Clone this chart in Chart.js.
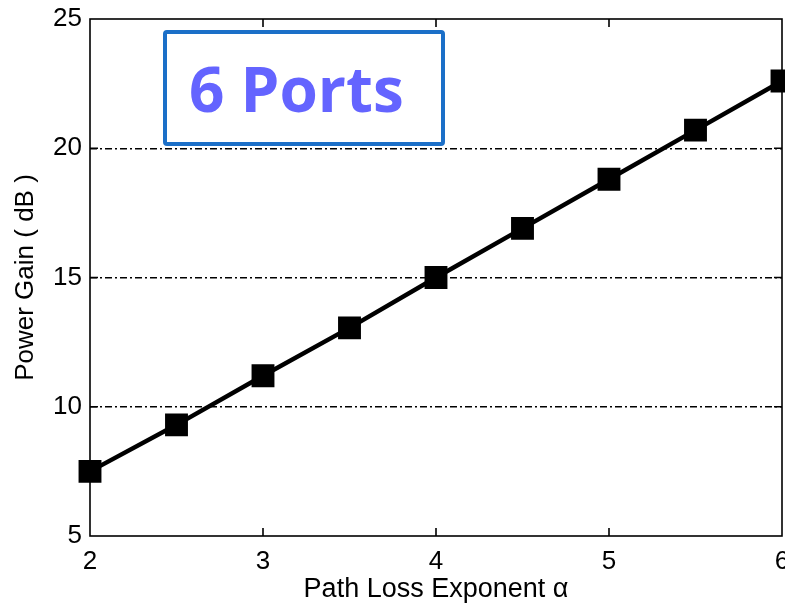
<!DOCTYPE html>
<html>
<head>
<meta charset="utf-8">
<title>Power Gain vs Path Loss Exponent</title>
<script src="https://cdn.jsdelivr.net/npm/chart.js@4.4.1/dist/chart.umd.min.js"></script>
<style>
  html, body { margin: 0; padding: 0; background: #fff; }
  #wrap { width: 785px; height: 603px; }
</style>
</head>
<body>
<div id="wrap"><canvas id="gainChart" width="785" height="603"></canvas></div>
<script>
// path loss exponent alpha and resulting power gain (dB)
const alphaValues = [2, 2.5, 3, 3.5, 4, 4.5, 5, 5.5, 6];
const powerGainDb = [7.5, 9.3, 11.2, 13.05, 15.0, 16.9, 18.8, 20.7, 22.6];
const xTicks = [2, 3, 4, 5, 6];
const yTicks = [5, 10, 15, 20, 25];
const gridLevels = [10, 15, 20];
const boxLabel = '6 Ports';

const axisFont = { family: "'Liberation Sans', Arial, sans-serif", size: 26 };

// box around the plot with short inward tick marks on all four sides
const framePlugin = {
  id: 'frame',
  beforeDatasetsDraw(chart) {
    const { ctx, chartArea: a, scales } = chart;
    const tick = 8;
    ctx.save();
    ctx.strokeStyle = '#000';
    ctx.lineWidth = 1.6;
    ctx.strokeRect(a.left, a.top, a.right - a.left, a.bottom - a.top);
    ctx.beginPath();
    xTicks.slice(1, -1).forEach(v => {
      const x = scales.x.getPixelForValue(v);
      ctx.moveTo(x, a.bottom); ctx.lineTo(x, a.bottom - tick);
      ctx.moveTo(x, a.top); ctx.lineTo(x, a.top + tick);
    });
    yTicks.slice(1, -1).forEach(v => {
      const y = scales.y.getPixelForValue(v);
      ctx.moveTo(a.left, y); ctx.lineTo(a.left + tick, y);
      ctx.moveTo(a.right, y); ctx.lineTo(a.right - tick, y);
    });
    ctx.stroke();
    ctx.restore();
  },
  afterDraw(chart) {
    const { ctx, chartArea: a } = chart;
    const bx = a.left + 75, by = a.top + 13, bw = 278, bh = 112;
    ctx.save();
    ctx.fillStyle = '#fff';
    ctx.strokeStyle = '#1b6fc8';
    ctx.lineWidth = 4;
    ctx.beginPath();
    ctx.roundRect(bx, by, bw, bh, 2);
    ctx.fill();
    ctx.stroke();
    ctx.fillStyle = '#6464ff';
    ctx.font = "bold 62px 'Open Sans', sans-serif";
    ctx.textBaseline = 'alphabetic';
    ctx.textAlign = 'left';
    ctx.fillText(boxLabel, bx + 24, by + 80);
    ctx.restore();
  }
};

new Chart(document.getElementById('gainChart'), {
  type: 'line',
  data: {
    datasets: [{
      data: alphaValues.map((a, i) => ({ x: a, y: powerGainDb[i] })),
      borderColor: '#000',
      backgroundColor: '#000',
      borderWidth: 4.5,
      pointStyle: 'rect',
      pointRadius: 13,
      pointHoverRadius: 13,
      tension: 0,
      clip: false
    }]
  },
  options: {
    responsive: false,
    animation: false,
    layout: { autoPadding: false, padding: { top: 19, right: 3, left: 0, bottom: 0 } },
    plugins: {
      legend: { display: false },
      tooltip: { enabled: false }
    },
    scales: {
      x: {
        type: 'linear',
        min: 2,
        max: 6,
        afterBuildTicks: s => { s.ticks = xTicks.map(v => ({ value: v })); },
        afterFit: s => { s.height = 67; s.paddingLeft = 0; s.paddingRight = 0; },
        grid: { display: false, drawTicks: false },
        border: { display: false },
        ticks: { color: '#000', font: axisFont, padding: 10, maxRotation: 0 },
        title: {
          display: true,
          text: 'Path Loss Exponent α',
          color: '#000',
          font: { family: axisFont.family, size: 27 },
          padding: { top: 0, bottom: -3 }
        }
      },
      y: {
        min: 5,
        max: 25,
        afterBuildTicks: s => { s.ticks = yTicks.map(v => ({ value: v })); },
        afterFit: s => { s.width = 90; s.paddingTop = 0; s.paddingBottom = 0; },
        grid: {
          drawTicks: false,
          lineWidth: 1.4,
          color: c => gridLevels.includes(c.tick && c.tick.value) ? '#000' : 'rgba(0,0,0,0)'
        },
        border: { display: false, dash: [7, 3, 2, 3] },
        ticks: { color: '#000', font: axisFont, padding: 8 },
        title: {
          display: true,
          text: 'Power Gain ( dB )',
          color: '#000',
          font: axisFont,
          padding: { top: 10, bottom: 0 }
        }
      }
    }
  },
  plugins: [framePlugin]
});
</script>
</body>
</html>
